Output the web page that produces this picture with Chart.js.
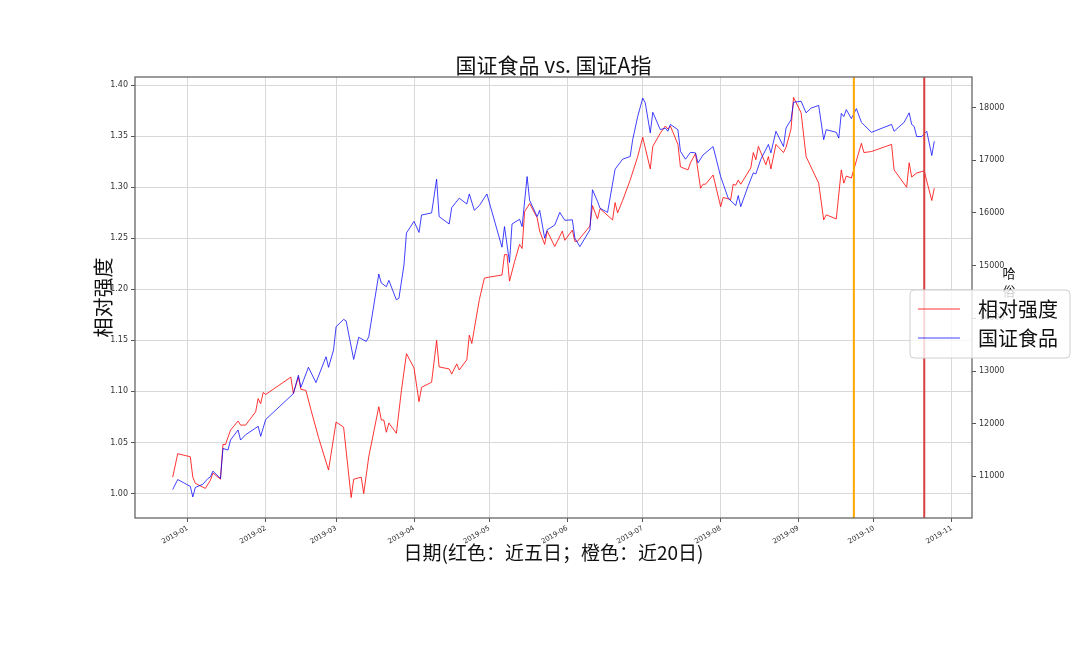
<!DOCTYPE html>
<html>
<head>
<meta charset="utf-8">
<script src="https://cdn.jsdelivr.net/npm/chart.js@4.4.0/dist/chart.umd.min.js"></script>
<style>
  html, body { margin: 0; padding: 0; background: #fff; }
  #wrap { width: 1080px; height: 648px; }
</style>
</head>
<body>
<div id="wrap"><canvas id="chart" width="1080" height="648"></canvas></div>
<script>
// 相对强度 (left axis)
const rsDates = [
  "2018-12-26", "2018-12-28", "2019-01-02", "2019-01-03", "2019-01-04", "2019-01-08", "2019-01-10", "2019-01-11",
  "2019-01-14", "2019-01-15", "2019-01-16", "2019-01-18", "2019-01-21", "2019-01-22", "2019-01-24", "2019-01-28",
  "2019-01-29", "2019-01-30", "2019-01-31", "2019-02-01", "2019-02-11", "2019-02-12", "2019-02-14", "2019-02-15",
  "2019-02-17", "2019-02-19", "2019-02-22", "2019-02-26", "2019-03-01", "2019-03-04", "2019-03-07", "2019-03-08",
  "2019-03-11", "2019-03-12", "2019-03-14", "2019-03-18", "2019-03-19", "2019-03-20", "2019-03-21", "2019-03-22",
  "2019-03-25", "2019-03-27", "2019-03-29", "2019-04-01", "2019-04-03", "2019-04-04", "2019-04-08", "2019-04-10",
  "2019-04-11", "2019-04-15", "2019-04-16", "2019-04-18", "2019-04-19", "2019-04-22", "2019-04-23", "2019-04-24",
  "2019-04-27", "2019-04-29", "2019-05-01", "2019-05-06", "2019-05-07", "2019-05-08", "2019-05-09", "2019-05-11",
  "2019-05-13", "2019-05-14", "2019-05-15", "2019-05-17", "2019-05-20", "2019-05-21", "2019-05-23", "2019-05-24",
  "2019-05-27", "2019-05-30", "2019-05-31", "2019-06-03", "2019-06-04", "2019-06-05", "2019-06-10", "2019-06-11",
  "2019-06-13", "2019-06-14", "2019-06-19", "2019-06-20", "2019-06-21", "2019-06-23", "2019-06-26", "2019-06-29",
  "2019-07-01", "2019-07-04", "2019-07-05", "2019-07-08", "2019-07-10", "2019-07-11", "2019-07-12", "2019-07-15",
  "2019-07-16", "2019-07-19", "2019-07-20", "2019-07-22", "2019-07-24", "2019-07-25", "2019-07-26", "2019-07-29",
  "2019-08-01", "2019-08-02", "2019-08-05", "2019-08-06", "2019-08-07", "2019-08-08", "2019-08-09", "2019-08-13",
  "2019-08-14", "2019-08-15", "2019-08-16", "2019-08-19", "2019-08-20", "2019-08-21", "2019-08-23", "2019-08-26",
  "2019-08-27", "2019-08-29", "2019-08-30", "2019-09-02", "2019-09-04", "2019-09-09", "2019-09-11", "2019-09-12",
  "2019-09-16", "2019-09-18", "2019-09-19", "2019-09-20", "2019-09-22", "2019-09-26", "2019-09-27", "2019-09-30",
  "2019-10-08", "2019-10-09", "2019-10-14", "2019-10-15", "2019-10-16", "2019-10-18", "2019-10-21", "2019-10-22",
  "2019-10-24", "2019-10-25"
];
const rsValues = [
  1.016, 1.039, 1.036, 1.016, 1.010, 1.005, 1.013, 1.020,
  1.014, 1.048, 1.048, 1.062, 1.071, 1.067, 1.067, 1.080,
  1.093, 1.088, 1.099, 1.097, 1.114, 1.098, 1.114, 1.102,
  1.101, 1.082, 1.055, 1.023, 1.070, 1.065, 0.996, 1.014,
  1.016, 1.000, 1.036, 1.085, 1.072, 1.072, 1.060, 1.069,
  1.059, 1.101, 1.137, 1.123, 1.090, 1.104, 1.109, 1.150,
  1.124, 1.122, 1.117, 1.127, 1.121, 1.131, 1.155, 1.147,
  1.190, 1.211, 1.212, 1.214, 1.234, 1.234, 1.208, 1.227,
  1.244, 1.240, 1.276, 1.284, 1.270, 1.257, 1.244, 1.257,
  1.242, 1.257, 1.248, 1.258, 1.247, 1.247, 1.262, 1.282,
  1.269, 1.279, 1.268, 1.285, 1.275, 1.287, 1.307, 1.330,
  1.349, 1.318, 1.340, 1.353, 1.360, 1.357, 1.360, 1.342,
  1.320, 1.317, 1.324, 1.333, 1.299, 1.303, 1.303, 1.312,
  1.281, 1.290, 1.288, 1.303, 1.302, 1.307, 1.303, 1.319,
  1.334, 1.327, 1.340, 1.322, 1.330, 1.318, 1.342, 1.334,
  1.339, 1.357, 1.388, 1.373, 1.330, 1.304, 1.268, 1.273,
  1.269, 1.317, 1.304, 1.311, 1.309, 1.343, 1.334, 1.335,
  1.342, 1.317, 1.300, 1.324, 1.310, 1.314, 1.316, 1.306,
  1.287, 1.299
];

// 国证食品 (right axis)
const foodDates = [
  "2018-12-26", "2018-12-28", "2019-01-02", "2019-01-03", "2019-01-04", "2019-01-07", "2019-01-09", "2019-01-10",
  "2019-01-11", "2019-01-14", "2019-01-15", "2019-01-17", "2019-01-18", "2019-01-21", "2019-01-22", "2019-01-24",
  "2019-01-29", "2019-01-30", "2019-02-01", "2019-02-12", "2019-02-14", "2019-02-15", "2019-02-18", "2019-02-21",
  "2019-02-25", "2019-02-26", "2019-02-28", "2019-03-01", "2019-03-04", "2019-03-05", "2019-03-08", "2019-03-10",
  "2019-03-13", "2019-03-14", "2019-03-18", "2019-03-19", "2019-03-21", "2019-03-22", "2019-03-25", "2019-03-26",
  "2019-03-28", "2019-03-29", "2019-04-01", "2019-04-03", "2019-04-04", "2019-04-08", "2019-04-10", "2019-04-11",
  "2019-04-15", "2019-04-16", "2019-04-19", "2019-04-22", "2019-04-23", "2019-04-25", "2019-04-27", "2019-04-30",
  "2019-05-06", "2019-05-07", "2019-05-09", "2019-05-10", "2019-05-13", "2019-05-14", "2019-05-16", "2019-05-17",
  "2019-05-20", "2019-05-21", "2019-05-23", "2019-05-24", "2019-05-27", "2019-05-29", "2019-05-31", "2019-06-03",
  "2019-06-04", "2019-06-06", "2019-06-10", "2019-06-11", "2019-06-13", "2019-06-14", "2019-06-17", "2019-06-20",
  "2019-06-23", "2019-06-26", "2019-06-27", "2019-06-29", "2019-07-01", "2019-07-02", "2019-07-04", "2019-07-05",
  "2019-07-08", "2019-07-10", "2019-07-11", "2019-07-12", "2019-07-15", "2019-07-16", "2019-07-18", "2019-07-20",
  "2019-07-22", "2019-07-23", "2019-07-25", "2019-07-29", "2019-08-01", "2019-08-04", "2019-08-07", "2019-08-08",
  "2019-08-09", "2019-08-12", "2019-08-14", "2019-08-15", "2019-08-17", "2019-08-20", "2019-08-21", "2019-08-23",
  "2019-08-26", "2019-08-27", "2019-08-29", "2019-08-30", "2019-09-02", "2019-09-04", "2019-09-06", "2019-09-09",
  "2019-09-11", "2019-09-12", "2019-09-16", "2019-09-17", "2019-09-18", "2019-09-19", "2019-09-20", "2019-09-22",
  "2019-09-24", "2019-09-26", "2019-09-30", "2019-10-08", "2019-10-09", "2019-10-13", "2019-10-15", "2019-10-16",
  "2019-10-17", "2019-10-18", "2019-10-20", "2019-10-22", "2019-10-24", "2019-10-25"
];
const foodValues = [
  10750, 10940, 10810, 10610, 10790, 10850, 10960, 10990,
  11100, 10960, 11530, 11500, 11690, 11880, 11690, 11790,
  11950, 11760, 12080, 12570, 12920, 12690, 13070, 12780,
  13270, 13070, 13400, 13840, 13980, 13950, 13220, 13640,
  13560, 13650, 14840, 14670, 14600, 14720, 14350, 14380,
  15010, 15620, 15840, 15630, 15960, 16000, 16640, 15930,
  15790, 16100, 16280, 16170, 16360, 16050, 16140, 16360,
  15350, 15740, 15060, 15790, 15880, 15740, 16690, 16240,
  15930, 16050, 15520, 15680, 15770, 16010, 15860, 15870,
  15520, 15360, 15680, 16440, 16220, 16090, 16010, 16830,
  17020, 17070, 17390, 17830, 18180, 18090, 17520, 17910,
  17580, 17610, 17550, 17680, 17580, 17170, 17020, 17150,
  17140, 16950, 17100, 17260, 16690, 16280, 16140, 16330,
  16120, 16520, 16760, 16740, 17020, 17300, 17140, 17550,
  17260, 17610, 17770, 18100, 18120, 17900, 17990, 18040,
  17390, 17580, 17530, 17420, 17890, 17830, 17960, 17790,
  17980, 17720, 17530, 17680, 17550, 17720, 17900, 17680,
  17640, 17450, 17450, 17550, 17090, 17360
];

const monthTicks = ["2019-01", "2019-02", "2019-03", "2019-04", "2019-05", "2019-06",
                    "2019-07", "2019-08", "2019-09", "2019-10", "2019-11"];
const leftTicks = [1.00, 1.05, 1.10, 1.15, 1.20, 1.25, 1.30, 1.35, 1.40];
const rightTicks = [11000, 12000, 13000, 14000, 15000, 16000, 17000, 18000];
// 橙色：近20日, 红色：近五日
const day20Date = "2019-09-23";
const day5Date = "2019-10-21";

const CJK = '"Noto Sans CJK SC", "Noto Sans", sans-serif';
const TICKF = { family: "DejaVu Sans", size: 8 };

function toDay(s) {
  const p = s.split("-").map(Number);
  return Date.UTC(p[0], p[1] - 1, p[2] || 1) / 86400000;
}

const rsPoints = rsDates.map((d, i) => ({ x: toDay(d), y: rsValues[i] }));
const foodPoints = foodDates.map((d, i) => ({ x: toDay(d), y: foodValues[i] }));

const overlay = {
  id: "overlay",
  afterDatasetsDraw(chart) {
    const { ctx, chartArea: a, scales } = chart;
    ctx.save();
    [[day20Date, "#ffa500"], [day5Date, "#d7403f"]].forEach(([d, c]) => {
      const x = scales.x.getPixelForValue(toDay(d));
      ctx.strokeStyle = c;
      ctx.lineWidth = 2;
      ctx.beginPath();
      ctx.moveTo(x, a.top);
      ctx.lineTo(x, a.bottom);
      ctx.stroke();
    });
    ctx.strokeStyle = "#666";
    ctx.lineWidth = 1.3;
    ctx.strokeRect(a.left, a.top, a.right - a.left, a.bottom - a.top);
    ctx.restore();
  },
  afterDraw(chart) {
    const { ctx, chartArea: a } = chart;
    const cx = (a.left + a.right) / 2;
    ctx.save();
    ctx.fillStyle = "#111";
    ctx.textAlign = "center";
    ctx.textBaseline = "middle";

    ctx.font = "21px " + CJK;
    ctx.fillText("国证食品 vs. 国证A指", cx, 65);

    ctx.font = "19px " + CJK;
    ctx.fillText("日期(红色：近五日；橙色：近20日)", cx, 553);

    ctx.save();
    ctx.translate(103, (a.top + a.bottom) / 2);
    ctx.rotate(-Math.PI / 2);
    ctx.font = "20px " + CJK;
    ctx.fillText("相对强度", 0, 0);
    ctx.restore();

    // right axis label, mostly hidden under the legend
    ctx.font = "13px " + CJK;
    ctx.fillText("哈", 1009, 273);
    ctx.fillText("俗", 1009, 291);

    // legend
    const lx = 910, ly = 290, lw = 160, lh = 68;
    ctx.fillStyle = "rgba(255,255,255,0.8)";
    ctx.strokeStyle = "#d0d0d0";
    ctx.lineWidth = 1;
    ctx.beginPath();
    ctx.roundRect(lx, ly, lw, lh, 4);
    ctx.fill();
    ctx.stroke();
    chart.data.datasets.forEach((ds, i) => {
      const y = ly + 19 + i * 29;
      ctx.strokeStyle = ds.borderColor;
      ctx.lineWidth = 1;
      ctx.beginPath();
      ctx.moveTo(lx + 8, y);
      ctx.lineTo(lx + 50, y);
      ctx.stroke();
      ctx.fillStyle = "#111";
      ctx.textAlign = "left";
      ctx.font = "20px " + CJK;
      ctx.fillText(ds.label, lx + 68, y);
    });
    ctx.restore();
  }
};

new Chart(document.getElementById("chart"), {
  type: "line",
  data: {
    datasets: [
      {
        label: "相对强度",
        data: rsPoints,
        yAxisID: "y",
        borderColor: "rgba(255,0,0,0.8)",
        borderWidth: 1,
        pointRadius: 0,
        tension: 0,
        order: 2,
      },
      {
        label: "国证食品",
        data: foodPoints,
        yAxisID: "y1",
        borderColor: "rgba(0,0,255,0.75)",
        borderWidth: 1,
        pointRadius: 0,
        tension: 0,
        order: 1,
      },
    ],
  },
  options: {
    responsive: false,
    animation: false,
    devicePixelRatio: 1,
    layout: { padding: { top: 77, left: 0, right: 0, bottom: 0 } },
    plugins: { legend: { display: false }, tooltip: { enabled: false } },
    scales: {
      x: {
        type: "linear",
        position: "bottom",
        min: toDay("2018-12-11"),
        max: toDay("2019-11-09"),
        afterBuildTicks: (s) => { s.ticks = monthTicks.map((m) => ({ value: toDay(m) })); },
        afterFit: (s) => { s.height = 130; },
        ticks: {
          autoSkip: false,
          minRotation: 30,
          maxRotation: 30,
          padding: 2,
          color: "#333",
          font: { family: "DejaVu Sans", size: 7 },
          callback: (v, i) => monthTicks[i],
        },
        grid: { color: "#d8d8d8", lineWidth: 1, tickLength: 4, tickColor: "#555" },
        border: { display: false },
      },
      y: {
        position: "left",
        min: 0.976,
        max: 1.408,
        afterBuildTicks: (s) => { s.ticks = leftTicks.map((v) => ({ value: v })); },
        afterFit: (s) => { s.width = 135; },
        ticks: { color: "#333", font: TICKF, padding: 3, callback: (v) => v.toFixed(2) },
        grid: { color: "#d8d8d8", lineWidth: 1, tickLength: 4, tickColor: "#555" },
        border: { display: false },
      },
      y1: {
        position: "right",
        min: 10210,
        max: 18580,
        afterBuildTicks: (s) => { s.ticks = rightTicks.map((v) => ({ value: v })); },
        afterFit: (s) => { s.width = 108; },
        ticks: { color: "#333", font: TICKF, padding: 3, callback: (v) => String(v) },
        grid: { drawOnChartArea: false, tickLength: 4, tickColor: "#555" },
        border: { display: false },
      },
    },
  },
  plugins: [overlay],
});
</script>
</body>
</html>
